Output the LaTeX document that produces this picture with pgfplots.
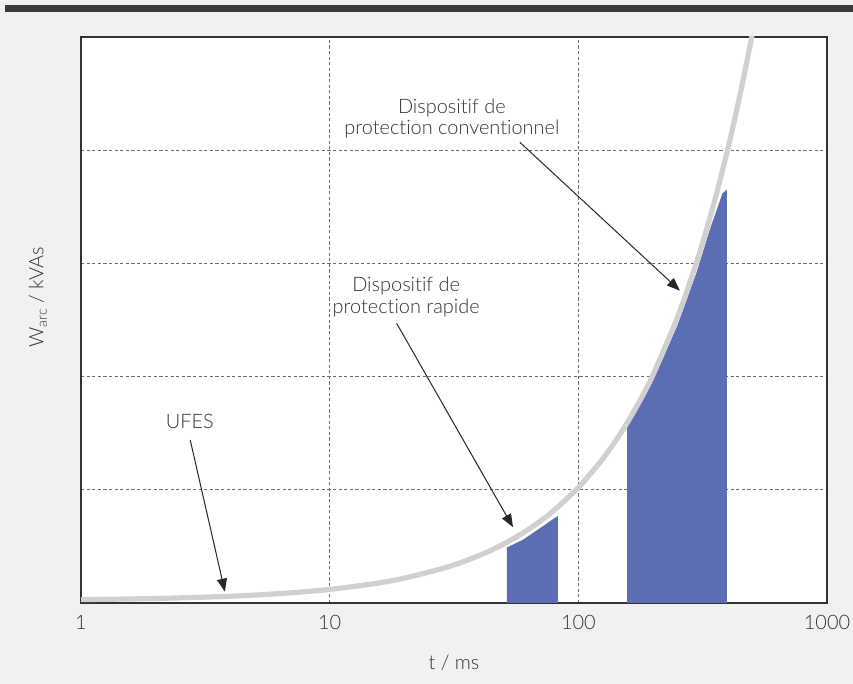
\documentclass[border=0pt]{standalone}
\usepackage{fontspec}
\setmainfont{Lato}[UprightFont=* Light, RawFeature={-liga;-dlig}]
\usepackage{pgfplots}
\pgfplotsset{compat=1.18}
\usetikzlibrary{arrows.meta}

\definecolor{fg}{HTML}{333333}
\definecolor{paper}{HTML}{F1F1F1}
\definecolor{topbar}{HTML}{3A3A3A}
\definecolor{curvegray}{HTML}{D0D0D0}
\definecolor{fillblue}{HTML}{5B6EB4}
\definecolor{gridgray}{HTML}{6A6A6A}

\begin{document}
\begin{tikzpicture}
\useasboundingbox (-40.5bp,-40.5bp) rectangle (386bp,301.5bp);
% page background and dark rule at the top
\fill[paper] (-40.5bp,-40.5bp) rectangle (386bp,301.5bp);
\fill[topbar] (-38bp,295.5bp) rectangle (386bp,299bp);
\begin{axis}[
    at={(0,0)}, anchor=south west,
    scale only axis,
    width=373bp, height=283bp,
    xmode=log,
    xmin=1, xmax=1000,
    ymin=0, ymax=5,
    xtick={1,10,100,1000},
    xticklabels={1,10,100,1000},
    ytick={1,2,3,4},
    yticklabels={},
    major tick length=0pt,
    minor tick num=0,
    log basis x=10,
    grid=major,
    major grid style={gridgray, line width=0.4bp, dash pattern=on 1.6bp off 1.2bp},
    axis line style={fg, line width=0.6bp},
    axis background/.style={fill=white},
    tick label style={font=\fontsize{10}{11}\selectfont, text=fg},
    xticklabel style={anchor=center, yshift=-9.5bp},
    xlabel={t / ms},
    xlabel style={at={(axis description cs:0.5,0)}, anchor=center, yshift=-30bp, font=\fontsize{10}{11}\selectfont, text=fg},
    ylabel={W\raisebox{-0.35ex}{\fontsize{7}{8}\selectfont arc} / kVAs},
    ylabel style={at={(axis description cs:-0.0576,0.54)}, anchor=center, font=\fontsize{10}{11}\selectfont, text=fg},
    clip=true,
]
% fast protection device energy
\addplot[draw=none, fill=fillblue] coordinates {
    (51.6,0) (51.6,0.49) (60,0.56) (70,0.66) (82.8,0.77) (82.8,0)
} -- cycle;
% conventional protection device energy
\addplot[draw=none, fill=fillblue] coordinates {
    (157,0) (157,1.55) (200,1.97) (250,2.45) (300,2.93) (338,3.30) (380,3.62) (396,3.65) (396,0)
} -- cycle;
% arc energy curve
\addplot[curvegray, line width=2.6bp, smooth] coordinates {
    (1,0.03) (1.5,0.035) (2,0.04) (3,0.05) (4,0.06) (5,0.07) (7,0.09)
    (10,0.12) (15,0.17) (20,0.22) (30,0.32) (40,0.42) (50,0.52)
    (60,0.62) (70,0.72) (80,0.82) (100,1.02) (125,1.27) (150,1.52)
    (175,1.77) (200,2.02) (250,2.52) (300,3.02) (350,3.52) (400,4.02)
    (450,4.52) (500,5.02) (520,5.22)
};
% annotations
\begin{scope}[font=\fontsize{10}{11}\selectfont, text=fg]
\node[align=center] at (axis cs:2.74,1.60) {UFES};
\node[align=center] at (axis cs:20.3,2.70) {Dispositif de\\protection rapide};
\node[align=center] at (axis cs:31.0,4.28) {Dispositif de\\protection conventionnel};
\end{scope}
\begin{scope}[draw=black!85, line width=0.5bp, -{Triangle[length=6.5bp,width=5bp]}]
\draw (axis cs:2.75,1.44) -- (axis cs:3.79,0.10);
\draw (axis cs:18.6,2.47) -- (axis cs:54.6,0.67);
\draw (axis cs:58.2,4.07) -- (axis cs:256,2.76);
\end{scope}
\end{axis}
\end{tikzpicture}
\end{document}
